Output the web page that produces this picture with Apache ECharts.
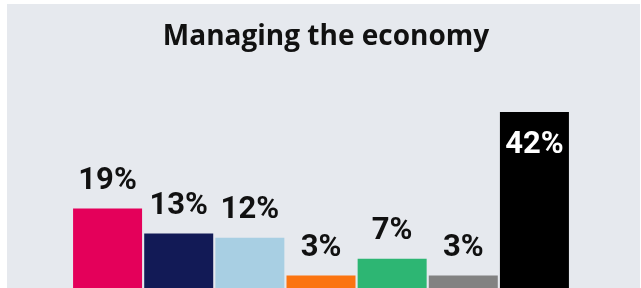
<!DOCTYPE html>
<html>
<head>
<meta charset="utf-8">
<script src="https://cdn.jsdelivr.net/npm/echarts@6/dist/echarts.min.js"></script>
<style>
html,body{margin:0;padding:0;background:#ffffff;}
#bg{position:absolute;left:7px;top:4px;width:633px;height:284px;background:#e6e9ee;}
#chart{position:absolute;left:0;top:0;width:641px;height:288px;}
</style>
</head>
<body>
<div id="bg"></div>
<div id="chart"></div>
<script>
const title = 'Managing the economy';
const categories = ['A', 'B', 'C', 'D', 'E', 'F', 'G'];
const values = [19, 13, 12, 3, 7, 3, 42];
const colors = ['#e4005a', '#121a56', '#a8cfe3', '#fb7410', '#2db673', '#828282', '#000000'];

const chart = echarts.init(document.getElementById('chart'), null, {renderer: 'canvas'});
chart.setOption({
  backgroundColor: 'transparent',
  animation: false,
  title: {
    text: title,
    left: 321,
    textAlign: 'center',
    top: 18,
    textStyle: {fontFamily: 'Open Sans', fontWeight: 'bold', fontSize: 28, color: '#111111'}
  },
  grid: {left: 72, right: 71, top: 112, bottom: -0.6, containLabel: false},
  xAxis: {
    type: 'category', data: categories,
    axisLine: {show: false}, axisTick: {show: false}, axisLabel: {show: false}
  },
  yAxis: {
    type: 'value', min: 0, max: 42,
    show: false, splitLine: {show: false}
  },
  series: [{
    type: 'bar',
    barWidth: 69,
    data: values.map((v, i) => ({
      value: v,
      itemStyle: {color: colors[i]},
      label: i === values.length - 1 ? {
        position: 'insideTop', distance: 18, color: '#ffffff'
      } : {position: 'top', distance: 12, color: '#111111'}
    })),
    label: {
      show: true,
      formatter: '{c}%',
      fontFamily: 'Roboto', fontWeight: 'bold', fontSize: 31
    }
  }]
});
</script>
</body>
</html>
